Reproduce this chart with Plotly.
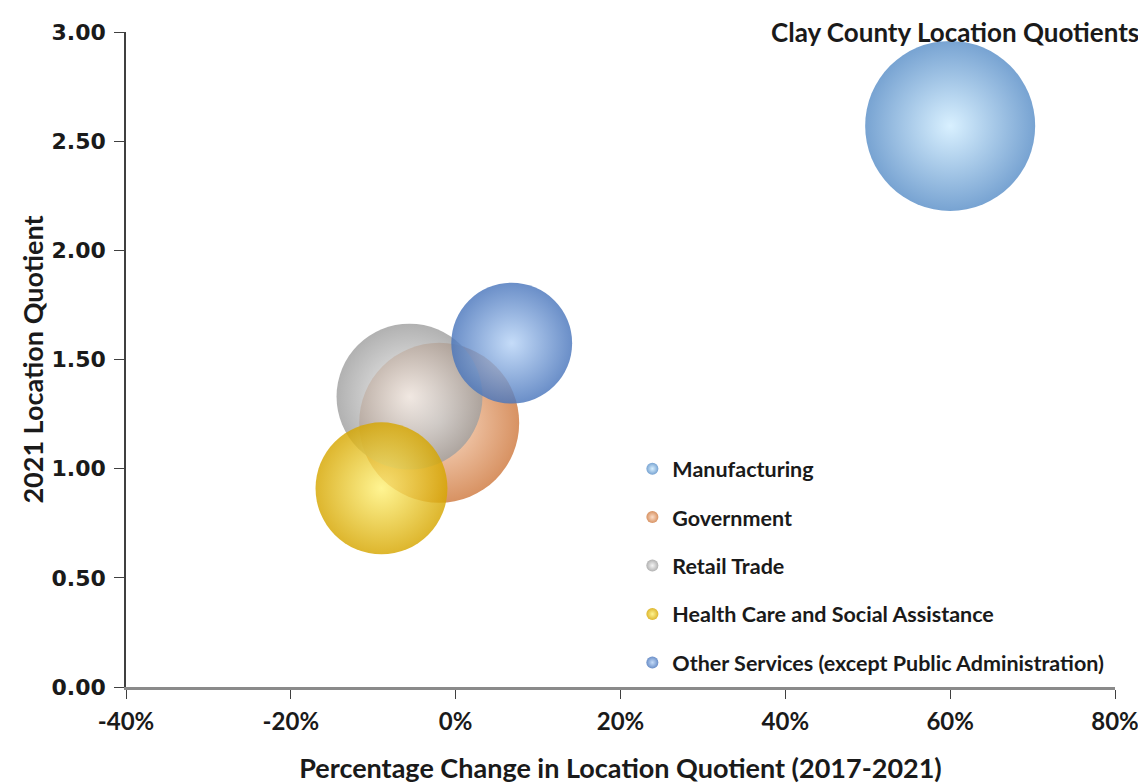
import plotly.graph_objects as go

industries = ["Manufacturing", "Government", "Retail Trade",
              "Health Care and Social Assistance",
              "Other Services (except Public Administration)"]
pct_change = [0.60, -0.02, -0.056, -0.09, 0.068]
lq_2021 = [2.57, 1.21, 1.33, 0.91, 1.575]
bubble_size = [2890, 2560, 2130, 1740, 1460]

x_tick_vals = [-0.4, -0.2, 0.0, 0.2, 0.4, 0.6, 0.8]
x_tick_text = ["-40%", "-20%", "0%", "20%", "40%", "60%", "80%"]
y_tick_vals = [0.0, 0.5, 1.0, 1.5, 2.0, 2.5, 3.0]
y_tick_text = ["0.00", "0.50", "1.00", "1.50", "2.00", "2.50", "3.00"]

edge_colors = ["#5A8FC8", "#CF7A40", "#A0A0A0", "#D6A600", "#4A76BC"]
center_colors = ["#D0EDFF", "#FAD6BC", "#F2F2F2", "#FFF27A", "#B8D4F7"]

MAX_DIAM = 170
sizeref = 2.0 * max(bubble_size) / (MAX_DIAM ** 2)

TXT = "#1a1a1a"

fig = go.Figure()
for i, name in enumerate(industries):
    fig.add_trace(go.Scatter(
        x=[pct_change[i]], y=[lq_2021[i]], mode="markers", name=name,
        legendgroup=name,
        marker=dict(size=[bubble_size[i]], sizemode="area", sizeref=sizeref,
                    color=edge_colors[i], opacity=0.82,
                    gradient=dict(type="radial", color=center_colors[i]),
                    line=dict(width=0)),
    ))

fig.update_layout(
    width=1146, height=783,
    margin=dict(l=118, r=39, t=19, b=103),
    paper_bgcolor="white", plot_bgcolor="white",
    font=dict(family="Lato", color=TXT),
    showlegend=True,
    legend=dict(x=0.512, y=0.3646, xanchor="left", yanchor="top",
                itemsizing="constant", tracegroupgap=17.5,
                traceorder="grouped",
                font=dict(family="Lato", size=21.5, weight="bold", color=TXT),
                bgcolor="rgba(0,0,0,0)"),
    xaxis=dict(range=[-0.4, 0.8], tickvals=x_tick_vals, ticktext=x_tick_text,
               showgrid=False, zeroline=False,
               showline=True, linecolor="#8a8a8a", linewidth=2.5,
               ticks="outside", ticklen=9, tickcolor="#404040", tickwidth=1.2,
               tickfont=dict(family="Lato", size=24, weight="bold", color=TXT),
               ticklabelstandoff=2,
               title=dict(text="Percentage Change in Location Quotient (2017-2021)",
                          font=dict(family="Lato", size=27, weight="bold", color=TXT),
                          standoff=26)),
    yaxis=dict(range=[0, 3.0], tickvals=y_tick_vals, ticktext=y_tick_text,
               showgrid=False, zeroline=False,
               showline=True, linecolor="#404040", linewidth=1.5,
               ticks="outside", ticklen=10, tickcolor="#404040", tickwidth=1.2,
               tickfont=dict(family="DejaVu Sans", size=22, weight="bold", color=TXT),
               ticklabelstandoff=4,
               title=dict(text="2021 Location Quotient",
                          font=dict(family="Lato", size=27, weight="bold", color=TXT),
                          standoff=0)),
    yaxis2=dict(range=[0, 3.0], tickvals=y_tick_vals, overlaying="y", side="left",
                showgrid=False, zeroline=False, showline=False,
                ticks="inside", ticklen=10, tickcolor="#404040", tickwidth=1.2,
                showticklabels=False),
)

fig.add_annotation(text="Clay County Location Quotients", xref="paper", yref="paper",
                   x=1.026, y=1.0, xanchor="right", yanchor="middle", showarrow=False,
                   font=dict(family="Lato", size=26, weight="bold", color=TXT))

fig.write_html("out.html")
